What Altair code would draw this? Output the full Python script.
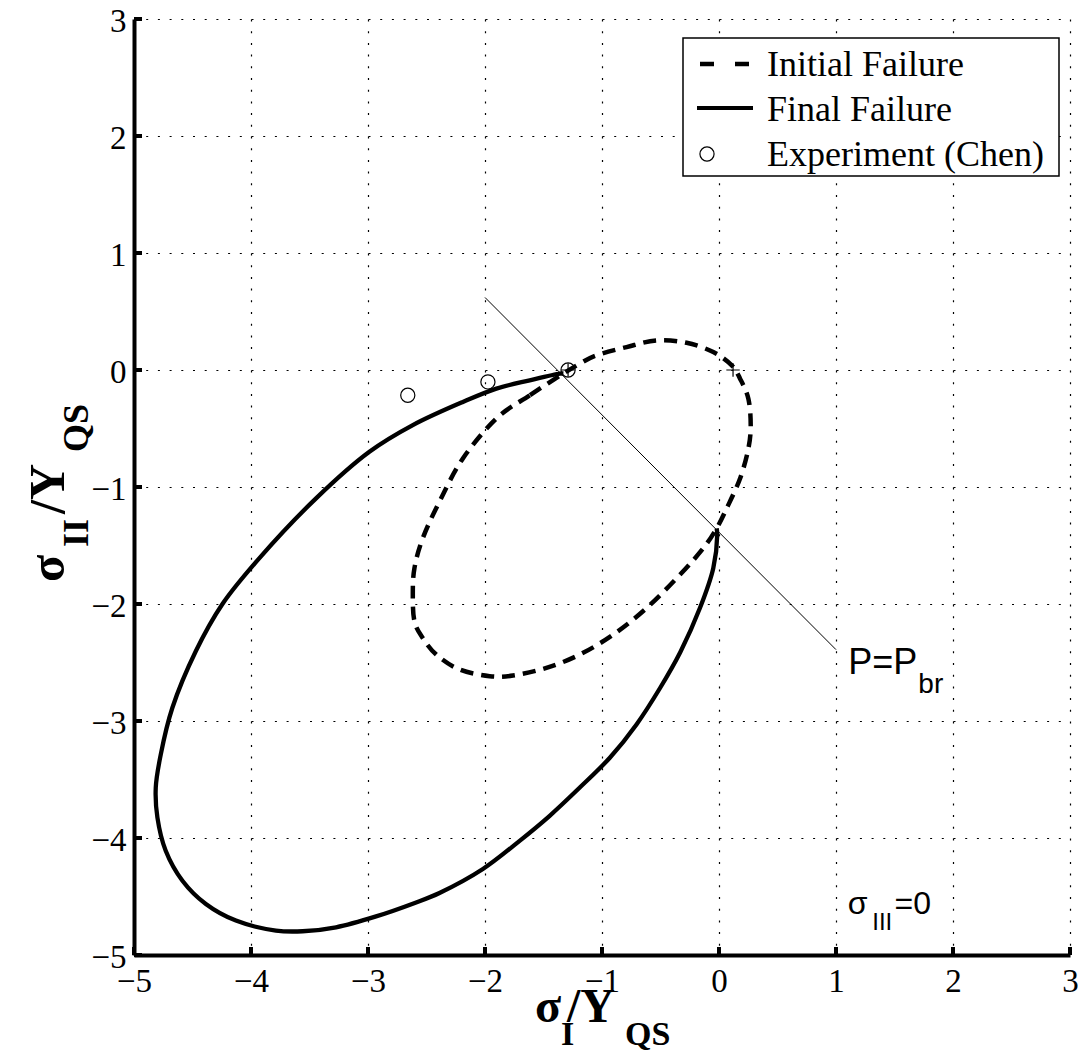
import altair as alt
import pandas as pd

# ---------------- data ----------------
final_x = [-1.33, -1.36, -1.618, -1.903, -2.189, -2.617, -2.988, -3.444, -3.93, -4.244, -4.472,
           -4.672, -4.771, -4.814, -4.80, -4.729, -4.586, -4.386, -4.129, -3.787, -3.559, -3.273,
           -2.931, -2.60, -2.389, -2.018, -1.704, -1.447, -1.19, -0.933, -0.705, -0.505, -0.33,
           -0.163, -0.049, -0.015, -0.02]
final_y = [-0.03, -0.031, -0.088, -0.159, -0.273, -0.471, -0.699, -1.097, -1.61, -2.0, -2.404,
           -2.887, -3.285, -3.569, -3.825, -4.109, -4.365, -4.564, -4.706, -4.791, -4.797, -4.763,
           -4.67, -4.555, -4.47, -4.265, -4.024, -3.81, -3.569, -3.314, -3.029, -2.72, -2.41,
           -2.035, -1.694, -1.409, -1.353]

init_x = [-1.33, -1.618, -1.903, -2.189, -2.389, -2.532, -2.603, -2.617, -2.603, -2.532, -2.417,
          -2.217, -1.96, -1.761, -1.475, -1.19, -0.905, -0.619, -0.334, -0.134, -0.02, 0.066,
          0.18, 0.251, 0.271, 0.251, 0.18, 0.109, -0.049, -0.277, -0.534, -0.79, -1.047, -1.19]
init_y = [-0.03, -0.216, -0.415, -0.756, -1.125, -1.438, -1.694, -1.92, -2.148, -2.29, -2.432,
          -2.56, -2.617, -2.611, -2.546, -2.432, -2.262, -2.035, -1.75, -1.523, -1.353, -1.182,
          -0.927, -0.671, -0.472, -0.245, -0.074, 0.04, 0.153, 0.233, 0.253, 0.196, 0.125, 0.054]

exp_x = [-2.66, -1.975, -1.29]
exp_y = [-0.216, -0.102, 0.0]

plus_x = [-1.29, 0.12]
plus_y = [0.0, 0.0]

pbr_x = [-2.0, 1.0]
pbr_y = [0.62, -2.39]

ticks = [-5, -4, -3, -2, -1, 0, 1, 2, 3]

legend_labels = ["Initial Failure", "Final Failure", "Experiment (Chen)"]

# ---------------- frames ----------------
final_df = pd.DataFrame({"x": final_x, "y": final_y, "i": range(len(final_x))})
init_df = pd.DataFrame({"x": init_x, "y": init_y, "i": range(len(init_x))})
exp_df = pd.DataFrame({"x": exp_x, "y": exp_y})
plus_df = pd.DataFrame({"x": plus_x, "y": plus_y})
pbr_df = pd.DataFrame({"x": pbr_x, "y": pbr_y, "i": [0, 1]})
tick_df = pd.DataFrame({"t": ticks})

W, H = 936, 936
dom = [-5, 3]
SERIF = "Liberation Serif"
SANS = "Liberation Sans"

xs = alt.Scale(domain=dom, nice=False, zero=False)
ys = alt.Scale(domain=dom, nice=False, zero=False)

common = dict(values=ticks, title=None, grid=True, ticks=False, domain=True, format="d",
              domainColor="black", domainWidth=4, labelFont=SERIF, labelFontSize=33,
              labelColor="black", labelOverlap=False, labelFlush=False,
              gridColor="black", gridDash=[2, 9.7], gridWidth=1.2, gridOpacity=1)
x_axis = alt.Axis(labelPadding=10, **common)
y_axis = alt.Axis(labelPadding=8, labelOffset=2, **common)

base_axes = alt.Chart(tick_df).mark_point(opacity=0).encode(
    x=alt.X("t:Q", scale=xs, axis=x_axis),
    y=alt.Y("t:Q", scale=ys, axis=y_axis),
)

xticks = alt.Chart(tick_df).mark_rule(color="black", strokeWidth=4).encode(
    x=alt.X("t:Q", scale=xs), y=alt.value(H), y2=alt.value(H - 8))
yticks = alt.Chart(tick_df).mark_rule(color="black", strokeWidth=4).encode(
    y=alt.Y("t:Q", scale=ys), x=alt.value(0), x2=alt.value(8))

final_line = alt.Chart(final_df).mark_line(color="black", strokeWidth=4.3, strokeJoin="round",
                                           interpolate="catmull-rom").encode(
    x=alt.X("x:Q", scale=xs), y=alt.Y("y:Q", scale=ys), order="i:Q")
init_line = alt.Chart(init_df).mark_line(color="black", strokeWidth=4.5, strokeDash=[13, 8],
                                         interpolate="cardinal-closed").encode(
    x=alt.X("x:Q", scale=xs), y=alt.Y("y:Q", scale=ys), order="i:Q")
pbr_line = alt.Chart(pbr_df).mark_line(color="black", strokeWidth=1).encode(
    x=alt.X("x:Q", scale=xs), y=alt.Y("y:Q", scale=ys), order="i:Q")
exp_pts = alt.Chart(exp_df).mark_point(shape="circle", filled=False, size=200, color="black",
                                       strokeWidth=1.2, opacity=1).encode(
    x=alt.X("x:Q", scale=xs), y=alt.Y("y:Q", scale=ys))
plus_pts = alt.Chart(plus_df).mark_point(shape="M-1,0L1,0M0,-1L0,1", filled=False, size=180,
                                         color="black", strokeWidth=1.2, opacity=1).encode(
    x=alt.X("x:Q", scale=xs), y=alt.Y("y:Q", scale=ys))

# annotations in data coordinates
def txt(s, x, y, size, font, weight="normal"):
    d = pd.DataFrame({"x": [x], "y": [y], "s": [s]})
    return alt.Chart(d).mark_text(align="left", baseline="alphabetic", font=font,
                                  fontSize=size, fontWeight=weight, color="black").encode(
        x=alt.X("x:Q", scale=xs), y=alt.Y("y:Q", scale=ys), text="s:N")

ann = [
    txt("P=P", 1.104, -2.60, 36, SANS),
    txt("br", 1.704, -2.762, 28, SANS),
    txt("σ", 1.10, -4.646, 32, SANS),
    txt("III", 1.31, -4.79, 24, SANS),
    txt("=0", 1.50, -4.646, 32, SANS),
]

# pixel-placed text pieces (titles with subscripts, legend)
def ptxt(s, x, y, size, font, weight="normal", angle=0):
    return alt.Chart(pd.DataFrame({"s": [s]})).mark_text(
        align="left", baseline="alphabetic", font=font, fontSize=size, fontWeight=weight,
        color="black", angle=angle).encode(x=alt.value(x), y=alt.value(y), text="s:N")

OX, OY = 134, 19  # page position of the plot origin
xtitle = [
    ptxt("σ", 535 - OX, 1022 - OY, 48, SERIF, "bold"),
    ptxt("I", 561 - OX, 1045 - OY, 34, SERIF, "bold"),
    ptxt("/Y", 567 - OX, 1022 - OY, 48, SERIF, "bold"),
    ptxt("QS", 625 - OX, 1045 - OY, 34, SERIF, "bold"),
]
ytitle = [
    ptxt("σ", 64 - OX, 582 - OY, 50, SERIF, "bold", 270),
    ptxt("II", 88 - OX, 547 - OY, 36, SERIF, "bold", 270),
    ptxt("/Y", 64 - OX, 514 - OY, 50, SERIF, "bold", 270),
    ptxt("QS", 88 - OX, 452 - OY, 36, SERIF, "bold", 270),
]

# legend (pixel placement inside the plot area)
LX0, LX1, LY0, LY1 = 683 - OX, 1059 - OX, 38 - OY, 176 - OY
SX0, SX1 = 697 - OX, 753 - OX
leg_box = alt.Chart(pd.DataFrame({"a": [0]})).mark_rect(fill="white", stroke="black",
                                                       strokeWidth=1.5).encode(
    x=alt.value(LX0), x2=alt.value(LX1), y=alt.value(LY0), y2=alt.value(LY1))
leg_dash = alt.Chart(pd.DataFrame({"a": [0]})).mark_rule(color="black", strokeWidth=4.5,
                                                        strokeDash=[14, 21],
                                                        strokeDashOffset=-3).encode(
    x=alt.value(SX0), x2=alt.value(SX1), y=alt.value(64 - OY))
leg_solid = alt.Chart(pd.DataFrame({"a": [0]})).mark_rule(color="black", strokeWidth=4).encode(
    x=alt.value(SX0), x2=alt.value(SX1), y=alt.value(108 - OY))
leg_circ = alt.Chart(pd.DataFrame({"a": [0]})).mark_point(shape="circle", filled=False, size=200,
                                                         color="black", strokeWidth=1.2,
                                                         opacity=1).encode(
    x=alt.value(707 - OX), y=alt.value(154 - OY))
leg_txt = [
    ptxt(legend_labels[0], 767 - OX, 76 - OY, 36, SERIF),
    ptxt(legend_labels[1], 767 - OX, 121 - OY, 36, SERIF),
    ptxt(legend_labels[2], 767 - OX, 166 - OY, 36, SERIF),
]

layers = [base_axes, xticks, yticks, pbr_line, init_line, final_line, exp_pts, plus_pts] + ann \
    + xtitle + ytitle + [leg_box, leg_dash, leg_solid, leg_circ] + leg_txt

chart = alt.layer(*layers).properties(
    width=W, height=H,
    padding={"left": 126, "top": 11, "right": 8, "bottom": 98},
    autosize=alt.AutoSizeParams(type="none"),
    background="white",
).configure_view(stroke=None)

chart.save("out.html", embed_options={"renderer": "svg", "actions": False})
